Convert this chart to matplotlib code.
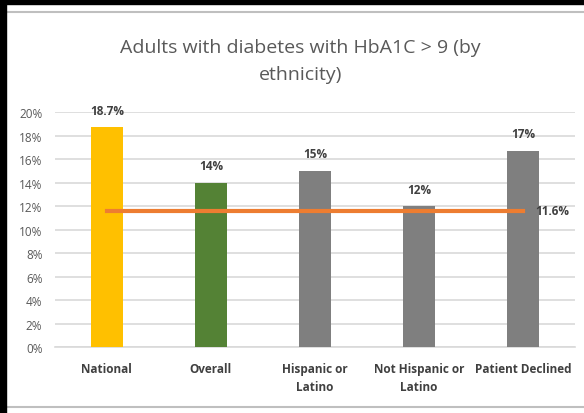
import matplotlib
matplotlib.use("Agg")
import matplotlib.pyplot as plt
from matplotlib.patches import Rectangle
from matplotlib.lines import Line2D

# данные
categories = ["National", "Overall", "Hispanic or\nLatino", "Not Hispanic or\nLatino", "Patient Declined"]
values = [18.7, 14.0, 15.0, 12.0, 16.7]
value_labels = ["18.7%", "14%", "15%", "12%", "17%"]
bar_colors = ["#FFC000", "#548235", "#7F7F7F", "#7F7F7F", "#7F7F7F"]
benchmark = 11.6
benchmark_label = "11.6%"
yticks = [0, 2, 4, 6, 8, 10, 12, 14, 16, 18, 20]

plt.rcParams["font.family"] = ["Open Sans", "DejaVu Sans"]

fig = plt.figure(figsize=(5.84, 4.14), dpi=100)
ax = fig.add_axes([0.094, 0.159, 0.891, 0.568])

x = list(range(len(categories)))
ax.bar(x, values, width=0.31, color=bar_colors, zorder=3)
ax.plot([x[0], x[-1]], [benchmark, benchmark], color="#ED7D31", linewidth=3, zorder=4)

for xi, v, lab in zip(x, values, value_labels):
    ax.text(xi, v + 0.9, lab, ha="center", va="bottom", fontsize=8.5,
            fontweight="bold", color="#404040")
ax.text(x[-1] + 0.12, benchmark, benchmark_label, ha="left", va="center",
        fontsize=8.5, fontweight="bold", color="#404040")

ax.set_xlim(-0.5, len(categories) - 0.5)
ax.set_ylim(0, 20)
ax.set_yticks(yticks)
ax.set_yticklabels([f"{t}%" for t in yticks], fontsize=8.5, color="#595959")
ax.set_xticks(x)
ax.set_xticklabels(categories, fontsize=8.5, fontweight="bold", color="#404040",
                   linespacing=1.5)
ax.tick_params(length=0, pad=11)
ax.tick_params(axis="y", pad=9)
ax.grid(axis="y", color="#D9D9D9", linewidth=1.2, zorder=0)
for s in ["top", "right", "left"]:
    ax.spines[s].set_visible(False)
ax.spines["bottom"].set_color("#D9D9D9")
ax.spines["bottom"].set_linewidth(1.2)

fig.text(0.515, 0.851, "Adults with diabetes with HbA1C > 9 (by\nethnicity)",
         ha="center", va="center", fontsize=14, color="#595959", linespacing=1.6)

# рамка как на скриншоте
fig.patches.append(Rectangle((0, 0.988), 1, 0.012, transform=fig.transFigure,
                             color="black", zorder=10))
fig.patches.append(Rectangle((0, 0), 0.011, 1, transform=fig.transFigure,
                             color="black", zorder=10))
fig.lines.append(Line2D([0.012, 1], [0.968, 0.968], transform=fig.transFigure,
                        color="#BFBFBF", linewidth=1.5))
fig.lines.append(Line2D([0.012, 1], [0.015, 0.015], transform=fig.transFigure,
                        color="#BFBFBF", linewidth=1.5))

fig.savefig("out.png", dpi=100)
